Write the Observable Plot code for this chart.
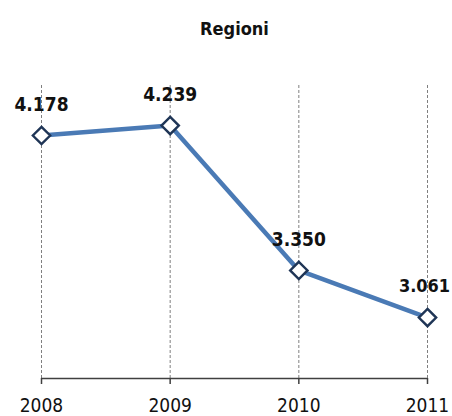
<!DOCTYPE html>
<html>
<head>
<meta charset="utf-8">
<script src="https://cdn.jsdelivr.net/npm/d3@7"></script>
<script src="https://cdn.jsdelivr.net/npm/@observablehq/plot@0.6"></script>
<style>
  html, body { margin: 0; padding: 0; background: #fff; }
</style>
</head>
<body>
<div id="chart"></div>
<script>
const title = "Regioni";
const years = [2008, 2009, 2010, 2011];
const values = [4.178, 4.239, 3.350, 3.061];
const valueLabels = ["4.178", "4.239", "3.350", "3.061"];

const data = years.map((y, i) => ({year: y, value: values[i], label: valueLabels[i]}));
const yDomain = [2.687, 4.497];
const lastIndex = data.length - 1;

const chart = Plot.plot({
  width: 452,
  height: 416,
  marginTop: 83,
  marginBottom: 38,
  marginLeft: 41,
  marginRight: 25,
  style: {fontFamily: "'DejaVu Sans Condensed', 'DejaVu Sans', sans-serif", background: "#fff", color: "#404040"},
  x: {type: "linear", domain: [years[0], years[years.length - 1]], label: null},
  y: {type: "linear", domain: yDomain, axis: null},
  marks: [
    Plot.ruleX(years, {x: d => d, y1: yDomain[0], y2: yDomain[1], stroke: "#7f7f7f", strokeWidth: 1, strokeDasharray: "3,2"}),
    Plot.ruleY([yDomain[0]], {stroke: "#404040", strokeWidth: 1.5}),
    Plot.axisX({ticks: years, tickFormat: d => String(d), tickSize: 6, tickPadding: 14, fontSize: 19, strokeWidth: 1.5, fill: "#111", label: null}),
    Plot.lineY(data, {x: "year", y: "value", stroke: "#4a7ab5", strokeWidth: 4.5}),
    Plot.dot(data, {x: "year", y: "value", symbol: "diamond2", r: 7.8, fill: "#fff", stroke: "#1f3556", strokeWidth: 2.4}),
    Plot.text(data.slice(0, lastIndex), {x: "year", y: "value", text: "label", dy: -31, fontSize: 19, fontWeight: "bold", fill: "#111"}),
    Plot.text(data.slice(lastIndex), {x: "year", y: "value", text: "label", dy: -31, dx: -3, fontSize: 18, fontWeight: "bold", fill: "#111"}),
    Plot.text([title], {frameAnchor: "top", dy: -61, fontSize: 18, fontWeight: "bold", fill: "#111"})
  ]
});
document.getElementById("chart").appendChild(chart);
</script>
</body>
</html>
